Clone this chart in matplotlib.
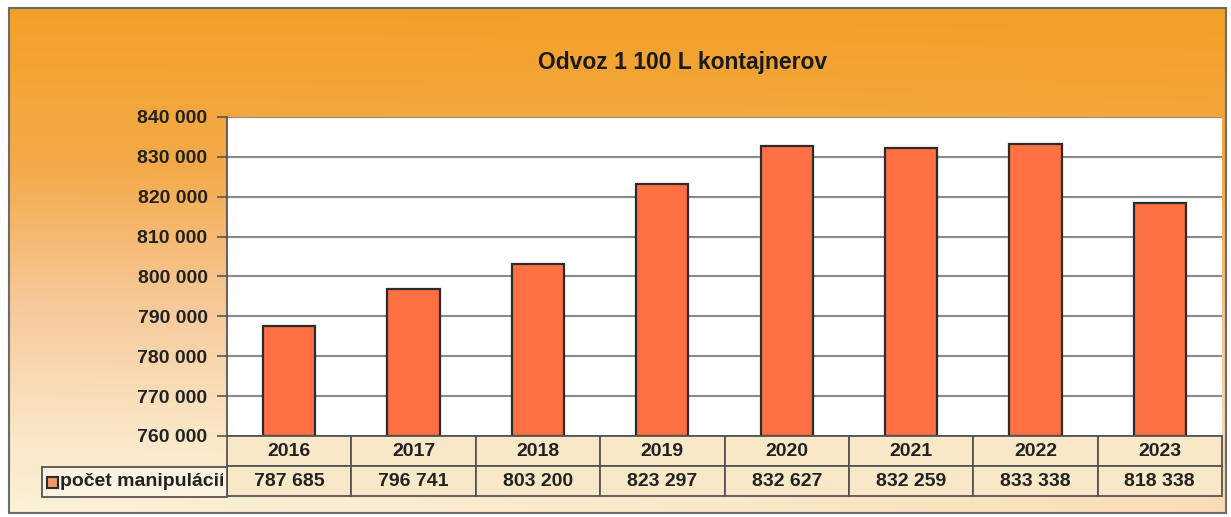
import numpy as np
import matplotlib
matplotlib.use("Agg")
import matplotlib.pyplot as plt
from matplotlib.patches import Rectangle
from matplotlib.colors import LinearSegmentedColormap
import matplotlib.transforms as mtransforms

plt.rcParams['font.family'] = ['Liberation Sans', 'DejaVu Sans']

title = "Odvoz 1 100 L kontajnerov"
years = ["2016", "2017", "2018", "2019", "2020", "2021", "2022", "2023"]
values = [787685, 796741, 803200, 823297, 832627, 832259, 833338, 818338]
series_label = "počet manipulácií"
y_ticks = [760000, 770000, 780000, 790000, 800000, 810000, 820000, 830000, 840000]

W, H = 1231, 517
fig = plt.figure(figsize=(W / 100, H / 100), dpi=100)
fig.patch.set_facecolor("white")

# background gradient
bg = fig.add_axes([0, 0, 1, 1], zorder=0)
bg.set_xlim(0, W)
bg.set_ylim(H, 0)
bg.axis("off")
yy, xx = np.mgrid[0:H, 0:W]
d = np.sqrt(((H - yy) / H) ** 2 + 0.06 * (xx / W) ** 2)
d = np.clip(d, 0, 1)
cmap = LinearSegmentedColormap.from_list(
    "bg",
    [(0.0, (251/255, 242/255, 216/255)),
     (0.15, (250/255, 232/255, 200/255)),
     (0.42, (247/255, 200/255, 152/255)),
     (0.68, (244/255, 170/255, 72/255)),
     (1.0, (242/255, 160/255, 38/255))])
x0f, y0f, x1f, y1f = 9, 8, 1226, 513
bg.imshow(cmap(d)[y0f:y1f, x0f:x1f], extent=(x0f, x1f, y1f, y0f), aspect="auto", zorder=0)
bg.add_patch(Rectangle((x0f, y0f), x1f - x0f, y1f - y0f, fill=False,
                       edgecolor="#6b6b6b", linewidth=1.5, zorder=2))

fig.text(683 / W, 1 - 62 / H, title, ha="center", va="center",
         fontsize=16.5, fontweight="bold", color="#1a1a1a")

# main axes
L, R, T, B = 227, 1222, 117, 436
ax = fig.add_axes([L / W, 1 - B / H, (R - L) / W, (B - T) / H], zorder=2)
ax.set_facecolor("white")
x = np.arange(len(years))
ax.bar(x, [v - y_ticks[0] for v in values], bottom=y_ticks[0], width=0.42,
       color="#FF7043", edgecolor="#2b2b2b", linewidth=1.6, zorder=3)
ax.set_xlim(-0.5, len(years) - 0.5)
ax.set_ylim(y_ticks[0], y_ticks[-1])
ax.set_yticks(y_ticks)
ax.set_yticklabels([f"{t:,}".replace(",", " ") for t in y_ticks], fontsize=14,
                   fontweight="bold", color="#222222")
ax.yaxis.grid(True, color="#8a8a8a", linewidth=1.5, zorder=1)
ax.set_axisbelow(True)
ax.tick_params(axis="y", length=7, width=1.2, color="#555555", pad=7)
ax.set_xticks([])
for s in ["top", "right", "bottom"]:
    ax.spines[s].set_visible(False)
ax.spines["left"].set_color("#555555")
ax.spines["left"].set_linewidth(1.3)

# data table drawn below axes
row_h = 30 / (B - T)
trans = mtransforms.blended_transform_factory(ax.transData, ax.transAxes)
cell_color = "#F8E8C8"
edge = "#555555"
for i, (yr, v) in enumerate(zip(years, values)):
    for r, txt in enumerate([yr, f"{v:,}".replace(",", " ")]):
        y0 = -row_h * (r + 1)
        ax.add_patch(Rectangle((i - 0.5, y0), 1, row_h, transform=trans,
                               facecolor=cell_color, edgecolor=edge, linewidth=1.3,
                               clip_on=False, zorder=4))
        ax.text(i, y0 + row_h / 2, txt, transform=trans, ha="center", va="center",
                fontsize=14, fontweight="bold", color="#222222", clip_on=False, zorder=5)

# legend cell
lx0, lx1 = 42, 227
cell_y0 = 1 - 497 / H
cell_h = 30 / H
legend_cell = Rectangle((lx0 / W, cell_y0), (lx1 - lx0) / W, cell_h, transform=fig.transFigure,
                        facecolor="#FBF3E2", edgecolor=edge, linewidth=1.3, zorder=4)
fig.add_artist(legend_cell)
fig.add_artist(Rectangle((47 / W, cell_y0 + 9 / H), 11 / W, 11 / H, transform=fig.transFigure,
                         facecolor="#F4956A", edgecolor="#2b2b2b", linewidth=1.5, zorder=5))
t = fig.text(60 / W, cell_y0 + cell_h / 2, series_label, ha="left", va="center",
             fontsize=14, fontweight="bold", color="#222222", zorder=5)
clip = Rectangle((lx0 / W, cell_y0), (lx1 - 4 - lx0) / W, cell_h, transform=fig.transFigure)
t.set_clip_path(clip)

fig.savefig("out.png", dpi=100)
